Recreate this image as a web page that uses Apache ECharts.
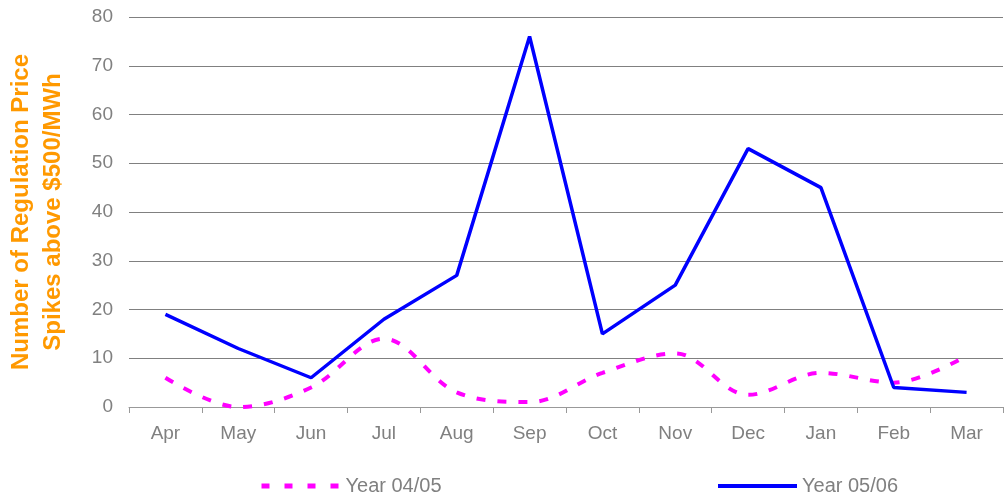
<!DOCTYPE html>
<html>
<head>
<meta charset="utf-8">
<script src="https://cdn.jsdelivr.net/npm/echarts@6/dist/echarts.min.js"></script>
<style>
html,body{margin:0;padding:0;background:#fff}
#main{width:1004px;height:498px}
</style>
</head>
<body>
<div id="main"></div>
<script>
var months = ["Apr","May","Jun","Jul","Aug","Sep","Oct","Nov","Dec","Jan","Feb","Mar"];
var year0405 = [6, 0, 4, 14, 3, 1, 7, 11, 2.5, 7, 5, 10.5];
var year0506 = [19, 12, 6, 18, 27, 76, 15, 25, 53, 45, 4, 3];
var yTicks = [0, 10, 20, 30, 40, 50, 60, 70, 80];

var grey = "#808080";
var font = "Liberation Sans, Arial, sans-serif";

var chart = echarts.init(document.getElementById("main"));
var option = {
    animation: false,
    backgroundColor: "#fff",
    grid: {left: 129, right: 1, top: 17, bottom: 91, containLabel: false, outerBoundsMode: "none"},
    legend: [{
        data: ["Year 04/05"],
        left: 259, top: 476, padding: 0,
        itemWidth: 77, itemHeight: 14, itemGap: 0,
        itemStyle: {opacity: 0},
        lineStyle: {width: 5, type: [8, 15]},
        textStyle: {color: grey, fontSize: 20, fontFamily: font, padding: [0, 0, 0, 2]}
    }, {
        data: ["Year 05/06"],
        left: 716, top: 476, padding: 0,
        itemWidth: 79, itemHeight: 14, itemGap: 0,
        itemStyle: {opacity: 0},
        lineStyle: {width: 4},
        textStyle: {color: grey, fontSize: 20, fontFamily: font, padding: [0, 0, 0, 0]}
    }],
    xAxis: {
        type: "category",
        data: months,
        boundaryGap: true,
        axisLine: {lineStyle: {color: "#999", width: 1}},
        axisTick: {show: true, length: 6, lineStyle: {color: "#999"}},
        axisLabel: {color: grey, fontSize: 19, fontFamily: font, margin: 17}
    },
    yAxis: {
        type: "value",
        min: yTicks[0], max: yTicks[yTicks.length - 1], interval: 10,
        name: "Number of Regulation Price\nSpikes above $500/MWh",
        nameLocation: "middle",
        nameRotate: 90,
        nameGap: 60,
        nameTextStyle: {color: "#FF9900", fontSize: 24, fontWeight: "bold", fontFamily: font, lineHeight: 32},
        axisLine: {show: false},
        axisTick: {show: false},
        axisLabel: {color: grey, fontSize: 19, fontFamily: font, margin: 16},
        splitLine: {lineStyle: {color: grey, width: 1}}
    },
    series: [{
        name: "Year 04/05",
        type: "line",
        data: year0405,
        smooth: 0.35,
        symbol: "none",
        color: "#FF00FF",
        lineStyle: {color: "#FF00FF", width: 4, type: [9, 12]}
    }, {
        name: "Year 05/06",
        type: "line",
        data: year0506,
        symbol: "none",
        color: "#0000FF",
        lineStyle: {color: "#0000FF", width: 3.5}
    }]
};
chart.setOption(option);
</script>
</body>
</html>
